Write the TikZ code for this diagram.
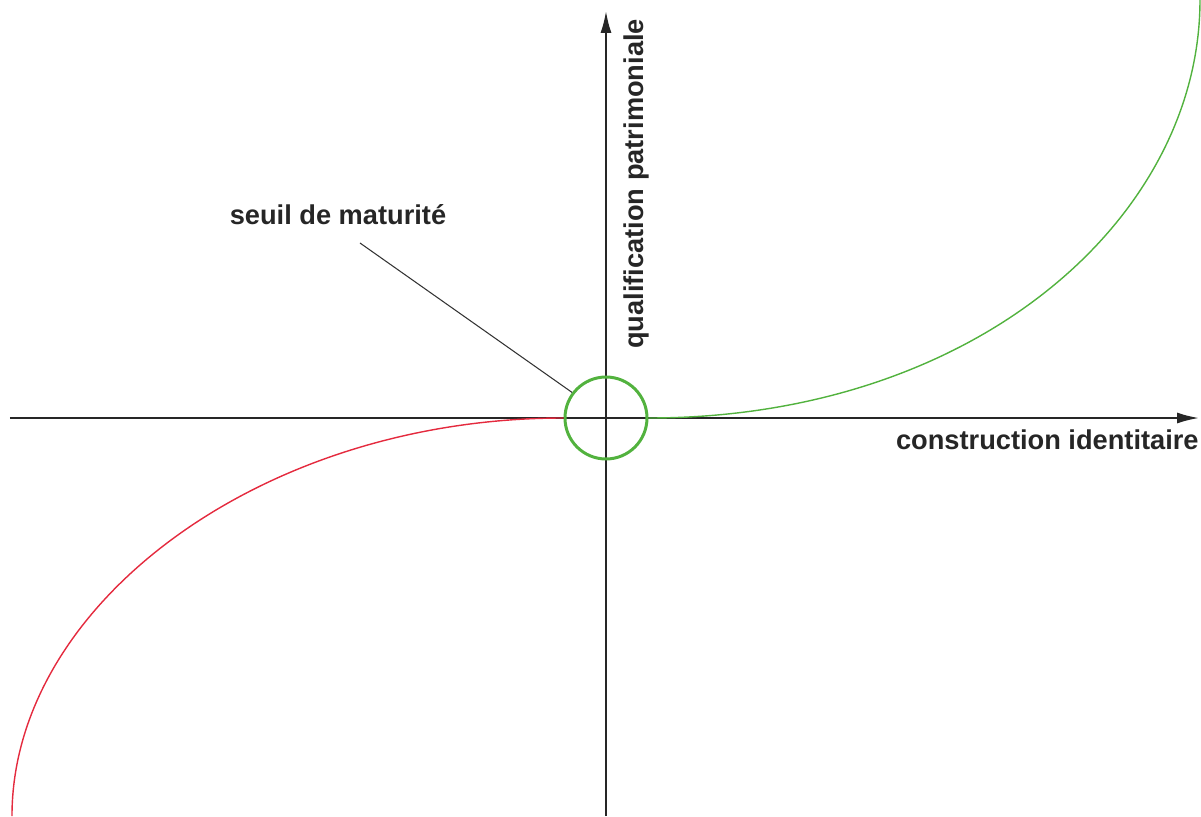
\documentclass[tikz,border=0pt]{standalone}
\usepackage{fontspec}
\setmainfont{Liberation Sans}
\usepackage{tikz}
\usetikzlibrary{
  calc,
  arrows.meta,
  positioning
}
\definecolor{matgreen}{RGB}{82,178,62}
\definecolor{matred}{RGB}{228,42,62}
\tikzset{
  axis/.style={-{Latex[length=4.4mm,width=2.2mm]}, line width=1.1pt, black!85},
  axislabel/.style={font=\fontsize{15.5}{18}\bfseries\selectfont, text=black!85, inner sep=0pt},
  threshold/.style={circle, draw=matgreen, line width=1.7pt, minimum size=1.64cm, inner sep=0pt},
  leader/.style={line width=0.6pt, black!80},
  growth/.style={line width=0.8pt, matgreen},
  decline/.style={line width=0.8pt, matred}
}

\begin{document}
\begin{tikzpicture}[x=0.02cm, y=0.02cm]

\useasboundingbox (-606,-398) rectangle (595,418);

% axes
\coordinate (xmin) at (-596,0);
\coordinate (xmax) at (593,0);
\coordinate (ymin) at (0,-398);
\coordinate (ymax) at (0,407);
\draw[axis] (xmin) -- (xmax);
\draw[axis] (ymin) -- (ymax);

% labels
\node[axislabel, anchor=north east] (xlabel) at (593,-11) {construction identitaire};
\node[axislabel, rotate=90] (ylabel) at (30,234) {qualification patrimoniale};

% threshold
\node[threshold] (seuil) at (0,0) {};
\node[axislabel] (seuillabel) at (-268,203) {seuil de maturit\'e};
\coordinate (lead) at (-246,175);
\draw[leader] (lead) -- (seuil.143);

% curves
\draw[growth] (seuil.east) .. controls (370,0) and (594,200) .. (594,418);
\draw[decline] (seuil.west) .. controls (-346,0) and (-594,-187) .. (-594,-398);

\end{tikzpicture}
\end{document}
